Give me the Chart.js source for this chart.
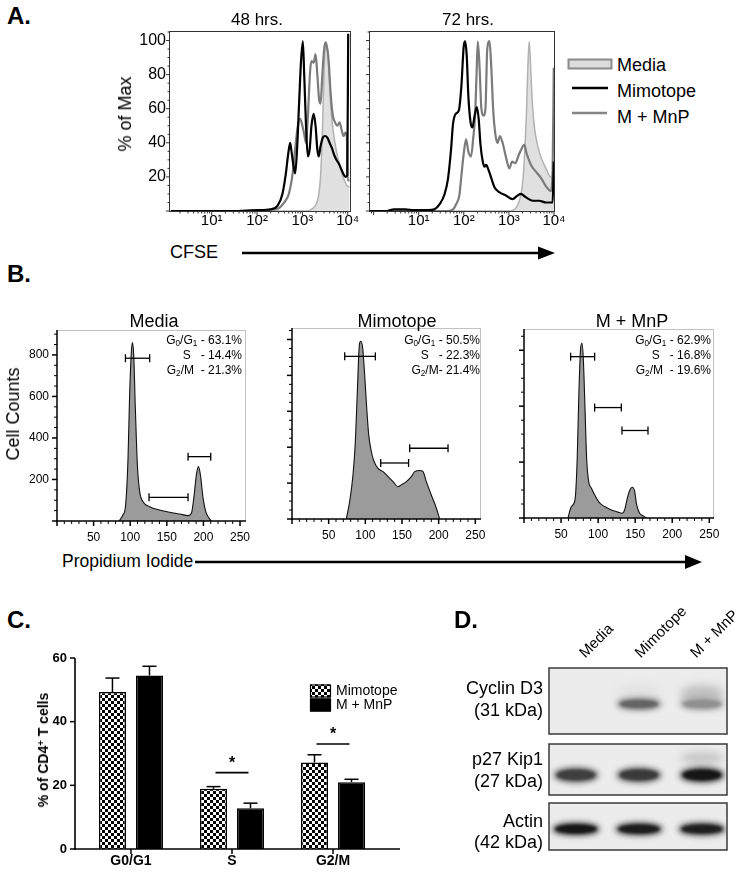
<!DOCTYPE html>
<html><head><meta charset="utf-8">
<script src="https://cdn.jsdelivr.net/npm/chart.js@4.4.1/dist/chart.umd.min.js"></script>
<style>
html,body{margin:0;padding:0;background:#fff;}
body{width:750px;height:872px;position:relative;overflow:hidden;font-family:'Liberation Sans',Arial,Helvetica,sans-serif;color:#000;}
canvas{position:absolute;}
.t{position:absolute;white-space:nowrap;line-height:1;}
.t sub{font-size:0.68em;vertical-align:-0.25em;line-height:0;}
.t sup{font-size:0.68em;vertical-align:0.45em;line-height:0;}
svg{position:absolute;left:0;top:0;}
</style></head><body>
<svg width="750" height="872">
 <line x1="242" y1="253" x2="541" y2="253" stroke="#000" stroke-width="2.5"/>
 <polygon points="538,246.5 555,253 538,259.5" fill="#000"/>
 <line x1="195" y1="562" x2="688" y2="562" stroke="#000" stroke-width="2.5"/>
 <polygon points="685,555 702,562 685,569" fill="#000"/>
 <rect x="568.5" y="59.5" width="43" height="9" fill="#dcdcdc" stroke="#8a8a8a" stroke-width="2"/>
 <line x1="572" y1="88" x2="608" y2="88" stroke="#000" stroke-width="2.5"/>
 <line x1="572" y1="113" x2="607" y2="113" stroke="#858585" stroke-width="2.5"/>
</svg>
<canvas id="a1"></canvas><canvas id="a2"></canvas>
<canvas id="b1"></canvas><canvas id="b2"></canvas><canvas id="b3"></canvas>
<canvas id="c"></canvas><canvas id="d"></canvas>
<script>
// ---------------- DATA ----------------
// Panel A: CFSE histograms, pairs of [log10(CFSE), % of Max]
const a48Mimotope = [[0.1,0],[1.5,0],[2.0,0.5],[2.3,1],[2.45,3],[2.56,10],[2.63,21],[2.685,33],[2.73,40],[2.76,35],[2.8,27],[2.84,22],[2.88,35],[2.93,65],[2.97,88],[3.01,99.5],[3.04,80],[3.08,50],[3.12,32],[3.16,36],[3.2,50],[3.25,57],[3.29,50],[3.33,36],[3.36,32],[3.4,38],[3.45,43],[3.5,44],[3.55,43],[3.6,40],[3.65,37],[3.7,33],[3.75,30],[3.8,28],[3.85,25],[3.9,22],[3.95,20],[3.99,21],[4.01,104]];
const a48MnP = [[0.1,0],[1.5,0],[2.0,0.5],[2.4,1],[2.5,2],[2.6,5],[2.7,10],[2.78,21],[2.85,39],[2.9,50],[2.95,54],[3.0,50],[3.04,45],[3.08,40],[3.12,55],[3.17,82],[3.2,88],[3.25,87],[3.29,92],[3.33,80],[3.37,65],[3.4,63],[3.44,80],[3.48,95],[3.51,99],[3.55,95],[3.58,88],[3.62,70],[3.67,56],[3.72,52],[3.77,50],[3.82,52],[3.87,47],[3.91,44],[3.95,46],[3.98,44],[4.0,18],[4.04,18]];
const a48Media = [[0.1,0],[3.1,0],[3.2,1],[3.28,3],[3.35,8],[3.4,20],[3.44,45],[3.47,75],[3.5,96],[3.53,99],[3.56,92],[3.6,74],[3.64,57],[3.7,43],[3.76,34],[3.82,27],[3.88,21],[3.94,17],[3.98,15],[4.04,14]];
const a72Mimotope = [[-0.08,0],[0.3,0],[0.45,1],[0.7,1],[0.9,0.5],[1.2,0.5],[1.35,1],[1.465,4],[1.575,10],[1.65,19],[1.72,37],[1.76,51],[1.82,57],[1.89,59],[1.943,72],[2.0,97],[2.03,99.5],[2.065,91],[2.1,68],[2.15,52],[2.19,49],[2.24,56],[2.29,61],[2.33,54],[2.37,39],[2.42,29],[2.46,26],[2.495,27],[2.55,24],[2.6,20],[2.68,14],[2.79,11],[2.94,9],[3.08,7],[3.19,9],[3.26,10],[3.38,8],[3.53,6],[3.67,6],[3.82,5],[3.93,5],[3.97,5],[3.995,29]];
const a72MnP = [[-0.08,0],[1.6,0],[1.76,1],[1.83,4],[1.9,9],[1.94,19],[1.995,33],[2.05,42],[2.1,35],[2.16,32],[2.21,43],[2.25,56],[2.28,78],[2.31,99.4],[2.35,84],[2.39,60],[2.44,56],[2.48,60],[2.52,95],[2.57,99.6],[2.61,84],[2.65,60],[2.7,45],[2.75,40],[2.8,44],[2.86,40],[2.94,31],[3.01,25],[3.07,29],[3.14,28],[3.22,33],[3.29,37],[3.34,39],[3.39,34],[3.49,27],[3.6,23],[3.71,19.5],[3.82,14.6],[3.93,11.7],[3.97,25],[3.995,84]];
const a72Media = [[-0.08,0],[3.0,0],[3.16,2],[3.27,10],[3.32,21],[3.36,39],[3.39,58],[3.42,84],[3.45,99.4],[3.48,86],[3.51,68],[3.55,53],[3.6,43],[3.67,35],[3.75,29],[3.82,25],[3.89,21],[3.95,19.5],[4.0,19]];
const aLegend = ['Media','Mimotope','M + MnP'];

// Panel B: propidium iodide histograms, pairs of [PI, cell count]
const bMedia = [[85,0],[90,29],[93.5,70],[97,300],[99.3,620],[101.6,815],[103,860],[104.8,800],[107,545],[109.8,270],[113,140],[117.5,93],[126.6,69],[140,53],[154,42],[167.6,34],[179,26],[183.6,37],[186.8,109],[190.4,222],[193.2,262],[195.9,222],[199.6,109],[203.2,45],[207.8,13],[211,0]];
const bMimotope = [[74,0],[78.7,49],[83.2,123],[86.4,216],[89.1,355],[91.9,485],[93.7,495],[96.4,476],[99.1,402],[101.9,309],[104.6,235],[108.2,188],[111.9,160],[117.3,141],[124.2,132],[131,118],[137.8,104],[144.6,90],[149.1,95],[155.9,104],[162.8,118],[167.3,132],[174.1,135],[178.7,132],[183.2,104],[190,67],[196.9,30],[201.4,0]];
const bMnP = [[59.3,0],[62.9,35],[66,47],[69.1,71],[71.8,214],[74.1,452],[76.4,607],[78.2,625],[80,571],[82.3,393],[84.5,214],[87.2,131],[90.8,107],[95.3,83],[102,54],[108.8,41],[117.8,29],[126.8,21],[132.2,17],[135.8,29],[139.4,71],[143,101],[146.1,110],[149.3,95],[152,47],[156,17],[161.9,6],[165,0]];
// gates [from, to, count]
const gatesMedia = [[93.5,126.6,784],[125.7,179,114],[179,210,310]];
const gatesMimotope = [[71.9,113.7,453],[121,159,156],[160.5,212.8,197]];
const gatesMnP = [[62.9,95.3,577],[95.3,131.3,395],[132.2,167.3,313]];
const statsMedia = ['63.1','14.4','21.3'];
const statsMimotope = ['50.5','22.3','21.4'];
const statsMnP = ['62.9','16.8','19.6'];
const bTitles = ['Media','Mimotope','M + MnP'];

// Panel C
const cCategories = ['G0/G1','S','G2/M'];
const cMimotope = [49.3, 18.9, 27.2];
const cMimotopeErr = [4.4, 0.7, 2.4];
const cMnP = [54.5, 12.8, 21.0];
const cMnPErr = [2.9, 1.6, 0.9];
const cSignificance = [[1, 24], [2, 33]]; // [category index, height]

// Panel D (relative band darkness 0..1)
const dLanes = ['Media','Mimotope','M + MnP'];
const dRowLabels = [['Cyclin D3','(31 kDa)'],['p27 Kip1','(27 kDa)'],['Actin','(42 kDa)']];
const dCyclinD3 = [0, 0.62, 0.42];
const dCyclinSmear = [0, 0.05, 0.2];
const dP27Kip1 = [0.78, 0.8, 0.97];
const dP27Smear = [0, 0, 0.18];
const dActin = [0.97, 0.94, 0.93];

// ---------------- HELPERS ----------------
Chart.defaults.font.family = "'Liberation Sans', Arial, Helvetica, sans-serif";
Chart.defaults.color = '#000';
const SUP = ['⁰','¹','²','³','⁴'];
const L = arr => arr.map(([lx, y]) => ({x: Math.pow(10, lx), y}));
const P = arr => arr.map(([x, y]) => ({x, y}));
const range = (a, b, s) => { const o = []; for (let v = a; v <= b + 1e-9; v += s) o.push(Math.round(v * 1000) / 1000); return o; };
const setTicks = list => s => { s.ticks = list.map(v => ({value: v})); };

function place(id, plot, m) {
  const c = document.getElementById(id);
  const w = plot.r - plot.l + m.l + m.r, h = plot.b - plot.t + m.t + m.b;
  c.width = w; c.height = h;
  c.style.left = (plot.l - m.l) + 'px'; c.style.top = (plot.t - m.t) + 'px';
  c.style.width = w + 'px'; c.style.height = h + 'px';
  return c;
}
function baseOpts(m, scales, topAxis) {
  for (const k of Object.keys(scales)) {
    const s = scales[k];
    s.grid = {display: false, drawTicks: false};
    s.border = {display: false};
    s.bounds = 'data';
    s.ticks = Object.assign({color: '#000', autoSkip: false, maxRotation: 0}, s.ticks);
    if (s.display === false) continue;
    const isX = (s.axis || k[0]) === 'x';
    s.afterFit = sc => {
      if (isX) sc.height = topAxis ? m.t : m.b; else sc.width = m.l;
      sc.paddingLeft = sc.paddingRight = sc.paddingTop = sc.paddingBottom = 0;
    };
  }
  return {
    responsive: false, animation: false, devicePixelRatio: 1, events: [],
    layout: {padding: topAxis ? {top: 0, right: m.r, bottom: m.b, left: 0} : {top: m.t, right: m.r, bottom: 0, left: 0}},
    plugins: {legend: {display: false}, tooltip: {enabled: false}, title: {display: false}},
    scales
  };
}
function seg(c, x1, y1, x2, y2) { c.beginPath(); c.moveTo(x1, y1); c.lineTo(x2, y2); c.stroke(); }
function axesPlugin(cfg) {
  return {id: 'axes', afterDraw(chart) {
    const c = chart.ctx, a = chart.chartArea, xs = chart.scales.x, ys = chart.scales.y;
    c.save();
    if (cfg.frame === 'box') {
      c.strokeStyle = '#333'; c.lineWidth = 1;
      c.strokeRect(a.left - 0.5, a.top - 0.5, a.right - a.left + 1, a.bottom - a.top + 1);
    } else if (cfg.frame === 'flow') {
      c.strokeStyle = '#c2c2c2'; c.lineWidth = 1;
      seg(c, a.left, a.top + 0.5, a.right + 0.5, a.top + 0.5);
      seg(c, a.right + 0.5, a.top, a.right + 0.5, a.bottom);
      c.strokeStyle = '#000'; c.lineWidth = 1.5;
      seg(c, a.left, a.top, a.left, a.bottom + 0.75);
      seg(c, a.left - 0.75, a.bottom, a.right + 1, a.bottom);
    } else if (cfg.frame === 'prism') {
      c.strokeStyle = '#000'; c.lineWidth = 1.6;
      seg(c, a.left, a.top, a.left, a.bottom + 0.8);
      seg(c, a.left - 0.8, a.bottom, a.right, a.bottom);
    }
    c.strokeStyle = cfg.color;
    for (const t of xs.ticks) {
      const p = xs.getPixelForValue(t.value), maj = cfg.x.major(t.value);
      c.lineWidth = maj ? cfg.majW : cfg.minW;
      seg(c, p, a.bottom, p, a.bottom + (maj ? cfg.majL : cfg.minL));
    }
    for (const t of ys.ticks) {
      const p = ys.getPixelForValue(t.value), maj = cfg.y.major(t.value);
      c.lineWidth = maj ? cfg.majW : cfg.minW;
      seg(c, a.left, p, a.left - (maj ? cfg.majL : cfg.minL), p);
    }
    c.restore();
  }};
}

// ---------------- PANEL A ----------------
function logTicks(lmin, lmax) {
  const o = [];
  for (let d = -1; d <= 4; d++) for (let k = 1; k <= 9; k++) {
    const v = k * Math.pow(10, d), l = Math.log10(v);
    if (l >= lmin - 1e-9 && l <= lmax + 1e-9) o.push(v);
  }
  return o;
}
const isDecade = v => Math.abs(Math.log10(v) - Math.round(Math.log10(v))) < 1e-6;
function chartA(id, plot, m, lmin, lmax, showY, sMim, sMnP, sMed) {
  const cv = place(id, plot, m);
  return new Chart(cv, {
    type: 'line',
    data: {datasets: [
      {label: aLegend[1], data: L(sMim), borderColor: '#000', borderWidth: 2.2, pointRadius: 0, fill: false, cubicInterpolationMode: 'monotone', order: 1},
      {label: aLegend[2], data: L(sMnP), borderColor: '#7b7b7b', borderWidth: 2.2, pointRadius: 0, fill: false, cubicInterpolationMode: 'monotone', order: 2},
      {label: aLegend[0], data: L(sMed), borderColor: '#b2b2b2', borderWidth: 1.5, backgroundColor: '#e0e0e0', pointRadius: 0, fill: 'origin', cubicInterpolationMode: 'monotone', order: 3}
    ]},
    options: baseOpts(m, {
      x: {type: 'logarithmic', min: Math.pow(10, lmin), max: Math.pow(10, lmax),
          afterBuildTicks: setTicks(logTicks(lmin, lmax)),
          ticks: {callback: v => (isDecade(v) && Math.round(Math.log10(v)) >= 1) ? '10' + SUP[Math.round(Math.log10(v))] : '', font: {size: 15}, padding: 1}},
      y: {type: 'linear', min: 0, max: 105, afterBuildTicks: setTicks(range(0, 105, 5)),
          ticks: {callback: v => (showY && v > 0 && v % 20 === 0) ? String(v) : '', font: {size: 16}, padding: 4}}
    }),
    plugins: [axesPlugin({frame: 'box', color: '#333', majL: 4, minL: 2.5, majW: 1, minW: 1,
      x: {major: isDecade}, y: {major: v => v % 20 === 0}})]
  });
}
chartA('a1', {l: 170, t: 32, r: 350, b: 211}, {l: 60, t: 7, r: 20, b: 29}, 0.08, 4.05, true, a48Mimotope, a48MnP, a48Media);
chartA('a2', {l: 370, t: 32, r: 554, b: 211}, {l: 15, t: 7, r: 16, b: 29}, -0.08, 4.0, false, a72Mimotope, a72MnP, a72Media);

// ---------------- PANEL B ----------------
function gatePlugin(gates) {
  return {id: 'gates', afterDatasetsDraw(chart) {
    const c = chart.ctx, xs = chart.scales.x, ys = chart.scales.y;
    c.save(); c.strokeStyle = '#000'; c.lineWidth = 1.3;
    for (const [f, t, n] of gates) {
      const x1 = xs.getPixelForValue(f), x2 = xs.getPixelForValue(t), y = ys.getPixelForValue(n);
      seg(c, x1, y, x2, y); seg(c, x1, y - 4, x1, y + 4); seg(c, x2, y - 4, x2, y + 4);
    }
    c.restore();
  }};
}
function chartB(id, plot, m, xmax, ymax, yMajor, yMinor, showY, series, gates) {
  const cv = place(id, plot, m);
  return new Chart(cv, {
    type: 'line',
    data: {datasets: [{data: P(series), borderColor: '#111', borderWidth: 1.1, backgroundColor: '#9b9b9b', fill: 'origin', pointRadius: 0, cubicInterpolationMode: 'monotone'}]},
    options: baseOpts(m, {
      x: {type: 'linear', min: 0, max: xmax, afterBuildTicks: setTicks(range(0, 250, 10)),
          ticks: {callback: v => (v > 0 && v % 50 === 0) ? String(v) : '', font: {size: 12}, padding: 9}},
      y: {type: 'linear', min: 0, max: ymax, afterBuildTicks: setTicks(range(0, ymax, yMinor)),
          ticks: {callback: v => (showY && v > 0 && v % yMajor === 0) ? String(v) : '', font: {size: 12}, padding: 8}}
    }),
    plugins: [gatePlugin(gates), axesPlugin({frame: 'flow', color: '#000', majL: 5, minL: 3, majW: 1.5, minW: 1,
      x: {major: v => v % 50 === 0}, y: {major: v => v % yMajor === 0}})]
  });
}
chartB('b1', {l: 57, t: 330, r: 245, b: 521}, {l: 37, t: 8, r: 15, b: 26}, 256.8, 920, 200, 50, true, bMedia, gatesMedia);
chartB('b2', {l: 292, t: 328, r: 480, b: 519}, {l: 22, t: 8, r: 15, b: 26}, 256.4, 532, 100, 25, false, bMimotope, gatesMimotope);
chartB('b3', {l: 524, t: 329, r: 713, b: 518}, {l: 24, t: 9, r: 22, b: 27}, 255, 676, 200, 50, false, bMnP, gatesMnP);

// ---------------- PANEL C ----------------
const cPlot = {l: 75, t: 658, r: 400, b: 849}, cM = {l: 75, t: 8, r: 10, b: 23};
const cCanvas = place('c', cPlot, cM);
const pc = document.createElement('canvas'); pc.width = pc.height = 6;
const pcx = pc.getContext('2d'); pcx.fillStyle = '#fff'; pcx.fillRect(0, 0, 6, 6);
pcx.fillStyle = '#000'; pcx.fillRect(0, 0, 3, 3); pcx.fillRect(3, 3, 3, 3);
const checker = cCanvas.getContext('2d').createPattern(pc, 'repeat');
const cExtras = {id: 'cextras', afterDatasetsDraw(chart) {
  const c = chart.ctx, xs = chart.scales.x, ys = chart.scales.y;
  c.save(); c.strokeStyle = '#000'; c.lineWidth = 1.5;
  [[cMimotope, cMimotopeErr], [cMnP, cMnPErr]].forEach(([vals, errs], di) => {
    const meta = chart.getDatasetMeta(di);
    vals.forEach((v, i) => {
      const x = meta.data[i].x, y0 = ys.getPixelForValue(v), y1 = ys.getPixelForValue(v + errs[i]);
      seg(c, x, y0, x, y1); seg(c, x - 7, y1, x + 7, y1);
    });
  });
  c.fillStyle = '#000'; c.font = "bold 16px 'Liberation Sans', Arial, sans-serif"; c.textAlign = 'center'; c.textBaseline = 'middle';
  for (const [ci, h] of cSignificance) {
    const x = xs.getPixelForValue(ci), y = ys.getPixelForValue(h);
    c.lineWidth = 1.6; seg(c, x - 16.5, y, x + 16.5, y);
    c.fillText('*', x, y - 9);
  }
  // legend
  c.font = "14px 'Liberation Sans', Arial, sans-serif"; c.textAlign = 'left';
  [[checker, 'Mimotope', 684.5], ['#000', 'M + MnP', 698.5]].forEach(([fill, label, top]) => {
    const ty = top - cCanvas.offsetTop;
    c.fillStyle = fill; c.fillRect(310 - cCanvas.offsetLeft, ty, 21, 13);
    c.lineWidth = 1.2; c.strokeRect(310.5 - cCanvas.offsetLeft, ty + 0.5, 20, 12);
    c.fillStyle = '#000'; c.fillText(label, 336 - cCanvas.offsetLeft, ty + 7);
  });
  c.restore();
}};
new Chart(cCanvas, {
  type: 'bar',
  data: {datasets: [
    {label: 'Mimotope', data: cMimotope.map((v, i) => ({x: i, y: v})), backgroundColor: checker, borderColor: '#000', borderWidth: 1.5, barPercentage: 0.73, categoryPercentage: 0.733, borderSkipped: 'bottom'},
    {label: 'M + MnP', data: cMnP.map((v, i) => ({x: i, y: v})), backgroundColor: '#000', borderColor: '#000', borderWidth: 1.5, barPercentage: 0.73, categoryPercentage: 0.733, borderSkipped: 'bottom'}
  ]},
  options: baseOpts(cM, {
    x: {type: 'linear', offset: false, min: -0.554, max: 2.663, afterBuildTicks: setTicks([0, 1, 2]),
        ticks: {callback: v => cCategories[v], font: {size: 14, weight: 'bold'}, padding: 4}},
    y: {type: 'linear', min: 0, max: 60, afterBuildTicks: setTicks([0, 20, 40, 60]),
        ticks: {font: {size: 13, weight: 'bold'}, padding: 8}}
  }),
  plugins: [cExtras, axesPlugin({frame: 'prism', color: '#000', majL: 5, minL: 5, majW: 1.5, minW: 1.5,
    x: {major: () => true}, y: {major: () => true}})]
});

// ---------------- PANEL D ----------------
const dPlot = {l: 549, t: 668, r: 727, b: 850}, dM = {l: 109, t: 78, r: 23, b: 5};
const dCanvas = place('d', dPlot, dM);
const dBoxes = [[0, 66, 36], [76, 127, 107], [135, 182, 161]]; // box top, box bottom, band centre (scale units)
const dBands = [
  {main: dCyclinD3, smear: dCyclinSmear, h: 9, w: 44, smearDy: -10, smearH: 18},
  {main: dP27Kip1, smear: dP27Smear, h: 12, w: 44, smearDy: -17, smearH: 12},
  {main: dActin, smear: [0, 0, 0], h: 10, w: 47, smearDy: 0, smearH: 0}
];
const gray = d => { const g = Math.round(236 - d * 222); return `rgb(${g},${g},${g})`; };
const dBlot = {id: 'blot', afterDraw(chart) {
  const c = chart.ctx, xs = chart.scales.x, ys = chart.scales.y;
  dBoxes.forEach(([t, b, mid], r) => {
    const x0 = xs.getPixelForValue(xs.min), x1 = xs.getPixelForValue(xs.max);
    const y0 = ys.getPixelForValue(t), y1 = ys.getPixelForValue(b), yc = ys.getPixelForValue(mid);
    c.save();
    c.fillStyle = '#ececec'; c.fillRect(x0, y0, x1 - x0, y1 - y0);
    c.beginPath(); c.rect(x0, y0, x1 - x0, y1 - y0); c.clip();
    const band = dBands[r];
    dLanes.forEach((_, i) => {
      const xc = xs.getPixelForValue(i);
      if (band.smear[i] > 0) {
        c.filter = 'blur(4px)';
        c.fillStyle = gray(band.smear[i]);
        c.beginPath(); c.ellipse(xc, yc + band.smearDy, band.w / 2, band.smearH / 2, 0, 0, Math.PI * 2); c.fill();
      }
      if (band.main[i] > 0) {
        c.filter = 'blur(3px)';
        c.fillStyle = gray(band.main[i]);
        c.beginPath(); c.ellipse(xc, yc, band.w / 2, band.h / 2 + 1, 0, 0, Math.PI * 2); c.fill();
        c.filter = 'blur(1.5px)';
        c.beginPath(); c.ellipse(xc, yc, band.w / 2 - 3, band.h / 2 - 1, 0, 0, Math.PI * 2); c.fill();
      }
      c.filter = 'none';
    });
    c.restore();
    c.save(); c.strokeStyle = '#3a3a3a'; c.lineWidth = 1.5;
    c.strokeRect(x0, y0, x1 - x0, y1 - y0); c.restore();
  });
}};
new Chart(dCanvas, {
  type: 'scatter',
  data: {datasets: []},
  options: baseOpts(dM, {
    x: {type: 'linear', display: false, min: -0.4286, max: 2.397},
    lanes: {type: 'linear', axis: 'x', position: 'top', min: -0.829, max: 2.378, afterBuildTicks: setTicks([0, 1, 2]),
        ticks: {callback: v => dLanes[v], font: {size: 15}, minRotation: 45, maxRotation: 45, padding: 6}},
    y: {type: 'linear', reverse: true, min: 0, max: 182, afterBuildTicks: setTicks([32, 103, 164.5]),
        ticks: {callback: (v, i) => dRowLabels[i], font: {size: 18, lineHeight: 1.2}, padding: 6}}
  }, true),
  plugins: [dBlot]
});

// ---------------- TEXT ----------------
function txt(html, o) {
  const d = document.createElement('div'); d.className = 't'; d.innerHTML = html;
  d.style.fontSize = o.size + 'px'; if (o.bold) d.style.fontWeight = 'bold';
  d.style.left = o.x + 'px';
  if (o.rot) { d.style.top = o.y + 'px'; d.style.transform = 'translate(-50%,-50%) rotate(-90deg)'; }
  else {
    d.style.top = (o.base - 0.8465 * o.size) + 'px';
    d.style.transform = 'translateX(' + (o.align === 'center' ? '-50%' : o.align === 'right' ? '-100%' : '0') + ')';
  }
  document.body.appendChild(d);
}
txt('A.', {x: 7, base: 24, size: 24, bold: true});
txt('B.', {x: 7, base: 282, size: 24, bold: true});
txt('C.', {x: 7, base: 628, size: 24, bold: true});
txt('D.', {x: 454, base: 628, size: 24, bold: true});
txt('48 hrs.', {x: 257, base: 25, size: 17, align: 'center'});
txt('72 hrs.', {x: 468, base: 25, size: 17, align: 'center'});
txt('% of Max', {x: 125, y: 114, size: 18, rot: true});
txt('CFSE', {x: 170, base: 258, size: 18});
aLegend.forEach((s, i) => txt(s, {x: 617, base: 71.4 + 26 * i, size: 18}));
[[154, 0], [397, 1], [632, 2]].forEach(([x, i]) => txt(bTitles[i], {x, base: 327, size: 18, align: 'center'}));
txt('Cell Counts', {x: 13, y: 414, size: 18, rot: true});
function stats(x, s, tight) {
  txt('G<sub>0</sub>/G<sub>1</sub> - ' + s[0] + '%', {x, base: 344.3, size: 12, align: 'right'});
  txt('S&nbsp;&nbsp; - ' + s[1] + '%', {x, base: 359.3, size: 12, align: 'right'});
  txt('G<sub>2</sub>/M' + (tight ? '- ' : '&nbsp; - ') + s[2] + '%', {x, base: 374.3, size: 12, align: 'right'});
}
stats(242, statsMedia, false);
stats(480, statsMimotope, true);
stats(711, statsMnP, false);
txt('Propidium Iodide', {x: 62, base: 568, size: 17.5});
txt('% of CD4<sup>+</sup> T cells', {x: 43, y: 750, size: 14, bold: true, rot: true});
</script>
</body></html>
